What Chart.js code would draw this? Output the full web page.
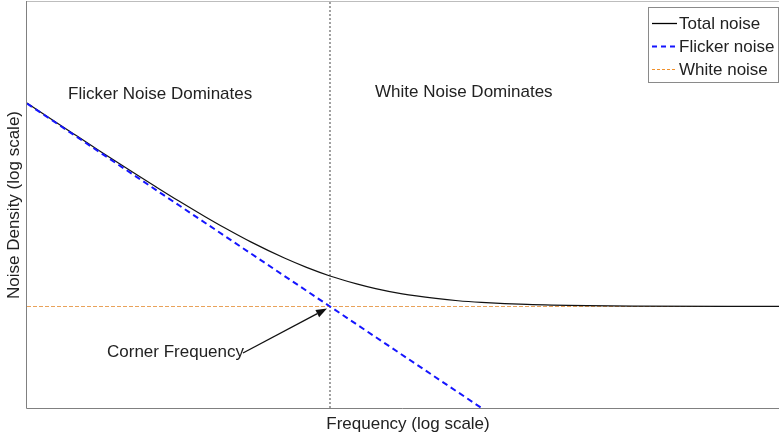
<!DOCTYPE html>
<html>
<head>
<meta charset="utf-8">
<script src="https://cdn.jsdelivr.net/npm/chart.js@4/dist/chart.umd.min.js"></script>
<style>
  html, body { margin: 0; padding: 0; background: #fff; }
  #wrap { width: 779px; height: 436px; }
</style>
</head>
<body>
<div id="wrap"><canvas id="c" width="779" height="436"></canvas></div>
<script>
// Frequency points (Hz) and noise density values for the combined noise curve
const frequency  = [1, 1.5, 2, 3, 5, 7, 10, 15, 20, 30, 50, 70, 100, 150, 200, 300, 500, 700, 1000, 2000, 5000, 10000, 92000];
const totalNoise = [101, 67.7, 51, 34.3, 21, 15.3, 11, 7.67, 6, 4.33, 3, 2.43, 2, 1.67, 1.5, 1.33, 1.2, 1.14, 1.1, 1.05, 1.02, 1.01, 1.001];

// 1/f (flicker) component
const flickerFreq  = [1, 100, 1000];
const flickerNoise = [100, 1, 0.1];

// Flat (white) component
const whiteFreq  = [1, 92000];
const whiteNoise = [1, 1];

// Corner frequency marker
const cornerFreq = 100;
const cornerLevel = 1;
const densityRange = [0.1, 1000];
const freqRange = [1, 92000];

const seriesNames = ['Total noise', 'Flicker noise', 'White noise'];

const pts = (xs, ys) => xs.map((x, i) => ({ x: x, y: ys[i] }));

const FONT = '17px "Liberation Sans", Arial, sans-serif';
const TEXT = '#222';

const decorations = {
  id: 'decorations',
  beforeDatasetsDraw(chart) {
    const { ctx, chartArea: a } = chart;
    ctx.save();
    // frame
    ctx.lineWidth = 1;
    ctx.strokeStyle = '#bdbdbd';
    ctx.beginPath();
    ctx.moveTo(a.left, 1.5); ctx.lineTo(a.right, 1.5);
    ctx.stroke();
    ctx.strokeStyle = '#808080';
    ctx.beginPath();
    ctx.moveTo(a.left - 0.5, 1); ctx.lineTo(a.left - 0.5, a.bottom + 0.5);
    ctx.lineTo(a.right, a.bottom + 0.5);
    ctx.stroke();
    ctx.restore();
  },
  afterDraw(chart) {
    const { ctx, chartArea: a, scales } = chart;
    const xs = scales.x, ys = scales.y;
    ctx.save();
    ctx.font = FONT;
    ctx.fillStyle = TEXT;
    ctx.textBaseline = 'alphabetic';

    // axis titles
    ctx.textAlign = 'center';
    ctx.fillText('Frequency (log scale)', 408, 429);
    ctx.save();
    ctx.translate(19, (a.top + a.bottom) / 2);
    ctx.rotate(-Math.PI / 2);
    ctx.fillText('Noise Density (log scale)', 0, 0);
    ctx.restore();

    // region labels
    ctx.textAlign = 'left';
    ctx.fillText('Flicker Noise Dominates', 68, 99);
    ctx.fillText('White Noise Dominates', 375, 97);

    // corner frequency callout with arrow
    ctx.fillText('Corner Frequency', 107, 357);
    const tx = xs.getPixelForValue(cornerFreq) - 3;
    const ty = ys.getPixelForValue(cornerLevel) + 2;
    const sx = 243, sy = 353;
    const ang = Math.atan2(ty - sy, tx - sx);
    const head = 11, hw = 4;
    const bx = tx - head * Math.cos(ang), by = ty - head * Math.sin(ang);
    ctx.strokeStyle = '#111';
    ctx.lineWidth = 1.3;
    ctx.beginPath();
    ctx.moveTo(sx, sy); ctx.lineTo(bx, by);
    ctx.stroke();
    ctx.fillStyle = '#111';
    ctx.beginPath();
    ctx.moveTo(tx, ty);
    ctx.lineTo(bx + hw * Math.sin(ang), by - hw * Math.cos(ang));
    ctx.lineTo(bx - hw * Math.sin(ang), by + hw * Math.cos(ang));
    ctx.closePath();
    ctx.fill();

    // legend
    const lx = 648.5, ly = 7.5, lw = 130, lh = 75;
    ctx.fillStyle = '#fff';
    ctx.fillRect(lx, ly, lw, lh);
    ctx.strokeStyle = '#8a8a8a';
    ctx.lineWidth = 1;
    ctx.strokeRect(lx, ly, lw, lh);
    const rows = [
      { y: 23.5, color: '#000', dash: [], width: 1.3 },
      { y: 46.5, color: '#1515ff', dash: [5, 4], width: 1.8 },
      { y: 69.5, color: '#f0902a', dash: [3, 2], width: 1.2 }
    ];
    rows.forEach((r, i) => {
      ctx.strokeStyle = r.color;
      ctx.lineWidth = r.width;
      ctx.setLineDash(r.dash);
      ctx.beginPath();
      ctx.moveTo(652, r.y); ctx.lineTo(677, r.y);
      ctx.stroke();
      ctx.setLineDash([]);
      ctx.fillStyle = TEXT;
      ctx.textBaseline = 'middle';
      ctx.fillText(seriesNames[i], 679, r.y + 1);
    });
    ctx.restore();
  }
};

new Chart(document.getElementById('c'), {
  type: 'line',
  data: {
    datasets: [
      {
        label: seriesNames[1],
        data: pts(flickerFreq, flickerNoise),
        borderColor: '#1515ff',
        borderWidth: 2,
        borderDash: [6, 4],
        pointRadius: 0,
        order: 0
      },
      {
        label: seriesNames[0],
        data: pts(frequency, totalNoise),
        borderColor: '#111',
        borderWidth: 1.2,
        cubicInterpolationMode: 'monotone',
        pointRadius: 0,
        order: 1
      },
      {
        label: seriesNames[2],
        data: pts(whiteFreq, whiteNoise),
        borderColor: '#e9a25a',
        borderWidth: 1,
        borderDash: [4, 2],
        pointRadius: 0,
        order: 2
      },
      {
        label: 'Corner',
        data: pts([cornerFreq, cornerFreq], densityRange),
        borderColor: '#444',
        borderWidth: 1,
        borderDash: [2, 2],
        pointRadius: 0,
        order: 3
      }
    ]
  },
  options: {
    responsive: false,
    animation: false,
    layout: { padding: { left: 27, top: 2, right: 0, bottom: 28 } },
    plugins: { legend: { display: false }, tooltip: { enabled: false } },
    scales: {
      x: { type: 'logarithmic', min: freqRange[0], max: freqRange[1], display: false },
      y: { type: 'logarithmic', min: densityRange[0], max: densityRange[1], display: false }
    }
  },
  plugins: [decorations]
});
</script>
</body>
</html>
